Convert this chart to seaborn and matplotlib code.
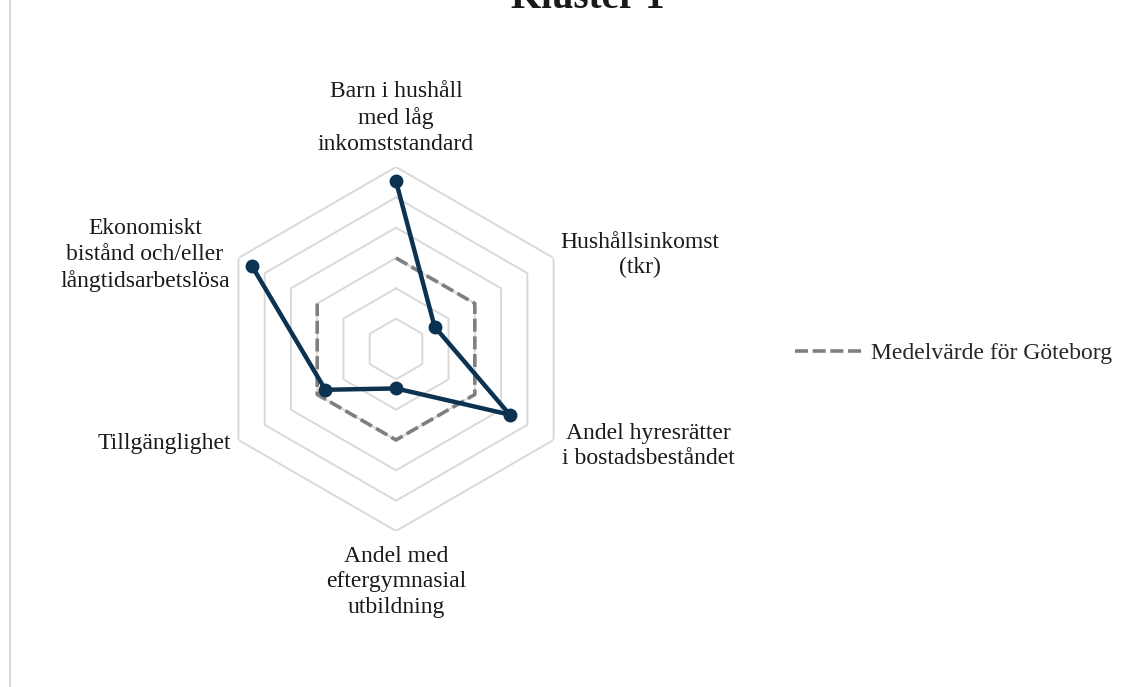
import numpy as np
import pandas as pd
import matplotlib
matplotlib.use("Agg")
import matplotlib.pyplot as plt
from matplotlib.lines import Line2D
import seaborn as sns

# Data (z-scores, mean for Göteborg = 0)
categories = [
    "Barn i hushåll\nmed låg\ninkomststandard",
    "Hushållsinkomst\n(tkr)",
    "Andel hyresrätter\ni bostadsbeståndet",
    "Andel med\neftergymnasial\nutbildning",
    "Tillgänglighet",
    "Ekonomiskt\nbistånd och/eller\nlångtidsarbetslösa",
]
cluster_values = [2.53, -1.53, 1.33, -1.70, -0.31, 2.49]
mean_values = [0, 0, 0, 0, 0, 0]
ring_levels = [-2, -1, 0, 1, 2, 3]

sns.set_theme(style="white")
plt.rcParams['font.family'] = ['Liberation Serif', 'DejaVu Serif']

W, H = 1130, 687
fig = plt.figure(figsize=(W / 100, H / 100), dpi=100)
ax = fig.add_axes([0.1894, 0.2271, 0.3221, 0.5298], projection="polar")
ax.set_theta_offset(np.pi / 2)
ax.set_theta_direction(-1)
ax.set_ylim(-3, 3)
ax.grid(False)
ax.spines['polar'].set_visible(False)
ax.set_xticks([])
ax.set_yticks([])
ax.patch.set_alpha(0)

n = len(categories)
angles = np.linspace(0, 2 * np.pi, n, endpoint=False)
closed = np.append(angles, angles[0])

# hexagonal grid
for lvl in ring_levels:
    ax.plot(closed, [lvl] * (n + 1), color="#d9d9d9", lw=1.4, zorder=1)

# mean line
df_mean = pd.DataFrame({'theta': closed, 'r': mean_values + mean_values[:1]})
sns.lineplot(data=df_mean, x='theta', y='r', ax=ax, sort=False, color="#7f7f7f",
             lw=2.6, zorder=2, legend=False)
ax.lines[-1].set_dashes([3.6, 1.3])

# cluster line
df_cl = pd.DataFrame({'theta': closed, 'r': cluster_values + cluster_values[:1]})
sns.lineplot(data=df_cl, x='theta', y='r', ax=ax, sort=False, color="#0c3251",
             lw=3.2, marker='o', markersize=10, markeredgewidth=0, zorder=3, legend=False)
ax.set_xlabel('')
ax.set_ylabel('')

# category labels (pixel centres of each text block)
label_xy = [(396, 118), (640, 255), (648, 446), (396, 582), (164, 443), (145, 255)]
for lab, (px, py) in zip(categories, label_xy):
    fig.text(px / W, 1 - py / H, lab, ha='center', va='center', fontsize=17,
             color="#1a1a1a", linespacing=1.28, multialignment='center')

# legend
handle = Line2D([0], [0], color="#7f7f7f", lw=2.6, dashes=[3.6, 1.3])
fig.legend([handle], ["Medelvärde för Göteborg"], loc='center left',
           bbox_to_anchor=(774 / W, 1 - 353 / H), frameon=False, fontsize=17,
           handlelength=2.85, handletextpad=0.35)

# title (cut at top of image)
fig.text(588 / W, 1 - 8 / H, "Kluster 1", ha='center', va='baseline',
         fontsize=28, fontweight='bold', color="#1a1a1a")

# left frame border
fig.add_artist(Line2D([10 / W, 10 / W], [0, 1], color="#d9d9d9", lw=1.5))

fig.savefig("out.png", dpi=100)
